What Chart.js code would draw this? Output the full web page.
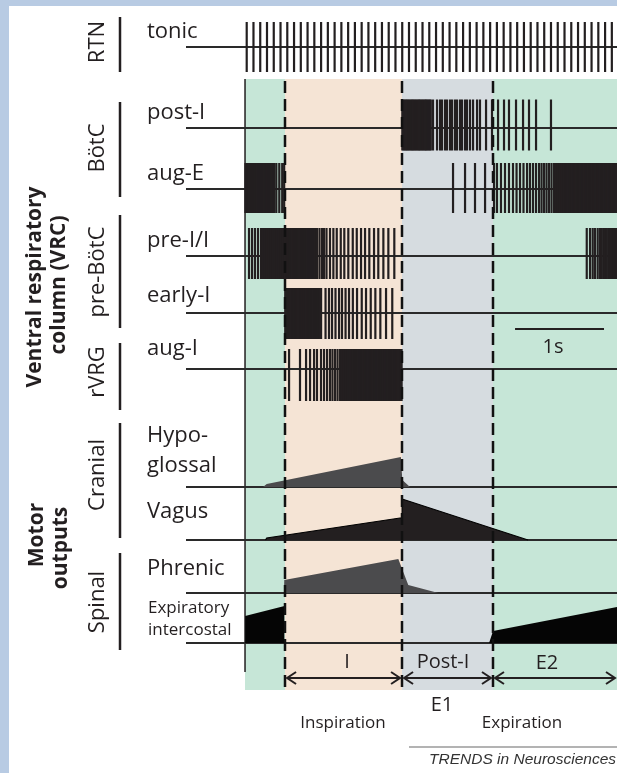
<!DOCTYPE html>
<html>
<head>
<meta charset="utf-8">
<script src="https://cdn.jsdelivr.net/npm/chart.js@4.4.0/dist/chart.umd.min.js"></script>
<style>
  html, body { margin: 0; padding: 0; background: #fff; }
  #wrap { position: relative; width: 617px; height: 773px; }
</style>
</head>
<body>
<div id="wrap"><canvas id="resp"></canvas></div>
<script>
// times in ms, 0 = start of the cycle shown (left edge of first green band)
const phaseNames = ["pre-I", "I", "Post-I", "E2"];
const phaseBounds = [0, 450, 1765, 2787, 4181];

const tonicSpikes = [19, 95, 171, 247, 323, 399, 475, 551, 627, 703, 779, 855, 931, 1007, 1083, 1159, 1235,
  1311, 1387, 1463, 1539, 1615, 1691, 1767, 1843, 1919, 1995, 2071, 2147, 2223, 2299, 2375, 2451, 2527,
  2603, 2679, 2755, 2831, 2907, 2983, 3059, 3135, 3211, 3287, 3363, 3439, 3515, 3591, 3667, 3743, 3819,
  3895, 3971, 4047, 4123];

const postISpikes = [1768, 1782, 1795, 1808, 1822, 1835, 1848, 1862, 1875, 1888, 1902, 1915, 1928, 1942,
  1955, 1968, 1982, 1995, 2008, 2022, 2035, 2048, 2062, 2075, 2088, 2113, 2158, 2192, 2214, 2248, 2270,
  2304, 2327, 2360, 2383, 2417, 2439, 2473, 2495, 2529, 2563, 2608, 2641, 2709, 2776, 2844, 2911, 2967,
  3046, 3125, 3192, 3271, 3439];

const augESpikes = [5, 18, 31, 44, 57, 70, 83, 96, 109, 122, 135, 148, 161, 174, 187, 200, 213, 226, 239,
  252, 265, 278, 291, 304, 317, 330, 352, 385, 418, 440,
  2338, 2473, 2585, 2698,
  2799, 2832, 2877, 2922, 2967, 3012, 3052, 3091, 3130, 3170, 3203, 3237, 3271, 3305, 3333, 3361, 3389,
  3417, 3445, 3473, 3496, 3518, 3541, 3563, 3586, 3600, 3615, 3630, 3645, 3660, 3675, 3690, 3705, 3720,
  3735, 3750, 3765, 3780, 3795, 3810, 3825, 3840, 3855, 3870, 3885, 3900, 3915, 3930, 3945, 3960, 3975,
  3990, 4005, 4020, 4035, 4050, 4065, 4080, 4095, 4110, 4125, 4140, 4155, 4170];

const preISpikes = [45, 79, 112, 146, 180, 202, 225, 247, 270, 292, 315, 337, 360, 382, 405, 427,
  450, 463, 476, 489, 502, 515, 528, 541, 554, 567, 580, 593, 606, 619, 632, 645, 658, 671, 684, 697,
  710, 723, 736, 749, 762, 775, 787, 809, 837, 865, 888, 916, 955, 993, 1031, 1076, 1116, 1161, 1211,
  1256, 1304, 1349, 1397, 1450, 1498, 1555, 1611, 1678,
  3841, 3878, 3908, 3934, 3964, 3990, 4009, 4027, 4046, 4066, 4083, 4100, 4113, 4126, 4139, 4152, 4165, 4178];

const earlyISpikes = [452, 465, 478, 491, 504, 517, 530, 543, 556, 569, 582, 595, 608, 621, 634, 647, 660,
  673, 686, 699, 712, 725, 738, 751, 764, 777, 790, 803, 816, 829, 842, 855, 905, 944, 978, 1017, 1057,
  1090, 1130, 1169, 1212, 1259, 1312, 1360, 1413, 1465, 1521, 1585, 1655];

const augISpikes = [495, 618, 686, 731, 776, 809, 854, 888, 922, 955, 983, 1012, 1040, 1068, 1090, 1113,
  1135, 1158, 1180, 1200, 1214, 1228, 1242, 1256, 1270, 1284, 1298, 1312, 1326, 1340, 1354, 1368, 1382,
  1396, 1410, 1424, 1438, 1452, 1466, 1480, 1494, 1508, 1522, 1536, 1550, 1564, 1578, 1592, 1606, 1620,
  1634, 1648, 1662, 1676, 1690, 1704, 1718, 1732, 1746, 1760];

// motor output envelopes: [time ms, amplitude]
const hypoglossalAmp = [[202, 0], [244, 3], [1752, 30], [1768, 7], [1855, 0]];
const vagusAmp = [[230, 0], [244, 2], [1742, 22], [1765, 22], [1766, 41], [3181, 0]];
const phrenicAmp = [[438, 0], [441, 13], [1723, 34], [1835, 8], [2173, 0]];
const expIntAmpE0 = [[0, 0], [1, 27], [444, 37], [445, 0]];
const expIntAmpE2 = [[2743, 0], [2788, 12], [4181, 36]];

const scaleBar = [3035, 4035];

// layout (pixels)
const ink = "#231f20";
const phaseColors = ["#c6e6d7", "#f5e4d5", "#d6dce0", "#c6e6d7"];
const rows = {
  tonic: { base: 47, mid: 47, half: 25 },
  postI: { base: 128, mid: 125, half: 25.5 },
  augE: { base: 189, mid: 188, half: 25 },
  preI: { base: 256, mid: 253.5, half: 25.5 },
  earlyI: { base: 313, mid: 313.5, half: 25.5 },
  augI: { base: 369, mid: 375, half: 26 },
  hypo: { base: 487 },
  vagus: { base: 540 },
  phrenic: { base: 593 },
  expInt: { base: 643 },
};

function spikeSet(times, row) {
  return {
    type: "scatter",
    data: times.map((t) => ({ x: t, y: row.mid })),
    showLine: false,
    pointStyle: "line",
    pointRotation: 90,
    pointRadius: row.half,
    pointBorderColor: ink,
    pointBorderWidth: 2.2,
    pointBackgroundColor: ink,
  };
}

function motorSet(pairs, row, color, edge) {
  return {
    type: "line",
    data: pairs.map(([t, a]) => ({ x: t, y: row.base - a })),
    fill: { value: row.base },
    backgroundColor: color,
    borderColor: edge || color,
    borderWidth: edge ? 1.2 : 0,
    pointRadius: 0,
    tension: 0,
  };
}

const rowLabels = [
  ["tonic", 147, 38, 22], ["post-I", 147, 119, 22], ["aug-E", 147, 180, 22],
  ["pre-I/I", 147, 247, 22], ["early-I", 147, 302, 22], ["aug-I", 147, 355, 22],
  ["Hypo-", 147, 442, 22], ["glossal", 147, 472, 22], ["Vagus", 147, 518, 22],
  ["Phrenic", 147, 575, 22], ["Expiratory", 148, 613, 17], ["intercostal", 148, 635, 17],
];
const groupLabels = [
  ["RTN", 42, 17, 72], ["BötC", 148, 102, 197], ["pre-BötC", 272, 215, 328],
  ["rVRG", 372, 343, 410], ["Cranial", 475, 423, 538], ["Spinal", 602, 553, 650],
];

const decor = {
  id: "decor",
  beforeDatasetsDraw(chart) {
    const { ctx } = chart;
    const xs = chart.scales.x;
    ctx.save();
    ctx.fillStyle = "#b8cbe3";
    ctx.fillRect(0, 0, 617, 6);
    ctx.fillRect(0, 0, 9, 773);
    for (let i = 0; i < phaseColors.length; i++) {
      const a = xs.getPixelForValue(phaseBounds[i]);
      const b = xs.getPixelForValue(phaseBounds[i + 1]);
      ctx.fillStyle = phaseColors[i];
      ctx.fillRect(a, 79, b - a, 611);
    }
    ctx.strokeStyle = ink;
    ctx.lineWidth = 1.5;
    const x0 = xs.getPixelForValue(phaseBounds[0]);
    ctx.beginPath(); ctx.moveTo(x0, 79); ctx.lineTo(x0, 672); ctx.stroke();
    // trace baselines
    ctx.strokeStyle = "#2a2a2a";
    ctx.lineWidth = 2;
    Object.values(rows).forEach((r) => {
      ctx.beginPath(); ctx.moveTo(186, r.base); ctx.lineTo(617, r.base); ctx.stroke();
    });
    ctx.restore();
  },
  afterDatasetsDraw(chart) {
    const { ctx } = chart;
    const xs = chart.scales.x;
    ctx.save();
    ctx.strokeStyle = "#111";
    ctx.lineWidth = 2.5;
    ctx.setLineDash([12, 6]);
    for (let i = 1; i < 4; i++) {
      const x = Math.round(xs.getPixelForValue(phaseBounds[i]));
      ctx.beginPath(); ctx.moveTo(x, 81); ctx.lineTo(x, 690); ctx.stroke();
    }
    ctx.setLineDash([]);
    // scale bar
    ctx.strokeStyle = ink; ctx.lineWidth = 2;
    ctx.beginPath();
    ctx.moveTo(xs.getPixelForValue(scaleBar[0]), 329);
    ctx.lineTo(xs.getPixelForValue(scaleBar[1]), 329);
    ctx.stroke();
    // phase arrows
    ctx.lineWidth = 2;
    for (let i = 1; i < 4; i++) {
      const a = xs.getPixelForValue(phaseBounds[i]) + 2;
      const b = Math.min(xs.getPixelForValue(phaseBounds[i + 1]), 617) - 2;
      const y = 678;
      ctx.beginPath(); ctx.moveTo(a, y); ctx.lineTo(b, y); ctx.stroke();
      ctx.beginPath(); ctx.moveTo(a + 9, y - 6); ctx.lineTo(a, y); ctx.lineTo(a + 9, y + 6); ctx.stroke();
      ctx.beginPath(); ctx.moveTo(b - 9, y - 6); ctx.lineTo(b, y); ctx.lineTo(b - 9, y + 6); ctx.stroke();
    }
    // group bars
    ctx.lineWidth = 2.5;
    groupLabels.forEach((g) => {
      ctx.beginPath(); ctx.moveTo(120, g[2]); ctx.lineTo(120, g[3]); ctx.stroke();
    });
    // texts
    ctx.fillStyle = ink;
    ctx.textBaseline = "alphabetic";
    ctx.textAlign = "left";
    rowLabels.forEach(([s, x, y, f]) => {
      ctx.font = f + 'px "Open Sans"';
      ctx.fillText(s, x, y);
    });
    const rot = (s, x, y, font) => {
      ctx.save();
      ctx.translate(x, y);
      ctx.rotate(-Math.PI / 2);
      ctx.font = font;
      ctx.textAlign = "center";
      ctx.fillText(s, 0, 0);
      ctx.restore();
    };
    groupLabels.forEach((g) => rot(g[0], 104, g[1], '22px "Open Sans"'));
    rot("Ventral respiratory", 41, 287, 'bold 21px "Open Sans"');
    rot("column (VRC)", 65, 285, 'bold 21px "Open Sans"');
    rot("Motor", 43, 535, 'bold 21px "Open Sans"');
    rot("outputs", 67, 548, 'bold 21px "Open Sans"');

    ctx.textAlign = "center";
    ctx.font = '20px "Open Sans"';
    ctx.fillText("1s", 553, 353);
    ctx.fillText("I", 347, 668);
    ctx.fillText("Post-I", 443, 668);
    ctx.fillText("E2", 547, 669);
    ctx.fillText("E1", 442, 711);
    ctx.font = '17px "Open Sans"';
    ctx.fillText("Inspiration", 343, 728);
    ctx.fillText("Expiration", 522, 728);

    ctx.strokeStyle = "#9a9a9a"; ctx.lineWidth = 1.5;
    ctx.beginPath(); ctx.moveTo(409, 747); ctx.lineTo(617, 747); ctx.stroke();
    ctx.fillStyle = "#333";
    ctx.textAlign = "right";
    ctx.font = 'italic 15.5px "Liberation Sans"';
    ctx.fillText("TRENDS in Neurosciences", 616, 764);
    ctx.restore();
  },
};

new Chart(document.getElementById("resp"), {
  data: {
    datasets: [
      spikeSet(tonicSpikes, rows.tonic),
      spikeSet(postISpikes, rows.postI),
      spikeSet(augESpikes, rows.augE),
      spikeSet(preISpikes, rows.preI),
      spikeSet(earlyISpikes, rows.earlyI),
      spikeSet(augISpikes, rows.augI),
      motorSet(hypoglossalAmp, rows.hypo, "#4b4b4d"),
      motorSet(vagusAmp, rows.vagus, "#231f20", "#000"),
      motorSet(phrenicAmp, rows.phrenic, "#4b4b4d"),
      motorSet(expIntAmpE0, rows.expInt, "#050505"),
      motorSet(expIntAmpE2, rows.expInt, "#050505"),
    ],
  },
  options: {
    responsive: true,
    maintainAspectRatio: false,
    animation: false,
    events: [],
    layout: { padding: 0, autoPadding: false },
    plugins: { legend: { display: false }, tooltip: { enabled: false } },
    scales: {
      x: { type: "linear", min: -2754, max: 4181, display: false },
      y: { type: "linear", min: 0, max: 773, reverse: true, display: false },
    },
  },
  plugins: [decor],
});
</script>
</body>
</html>
